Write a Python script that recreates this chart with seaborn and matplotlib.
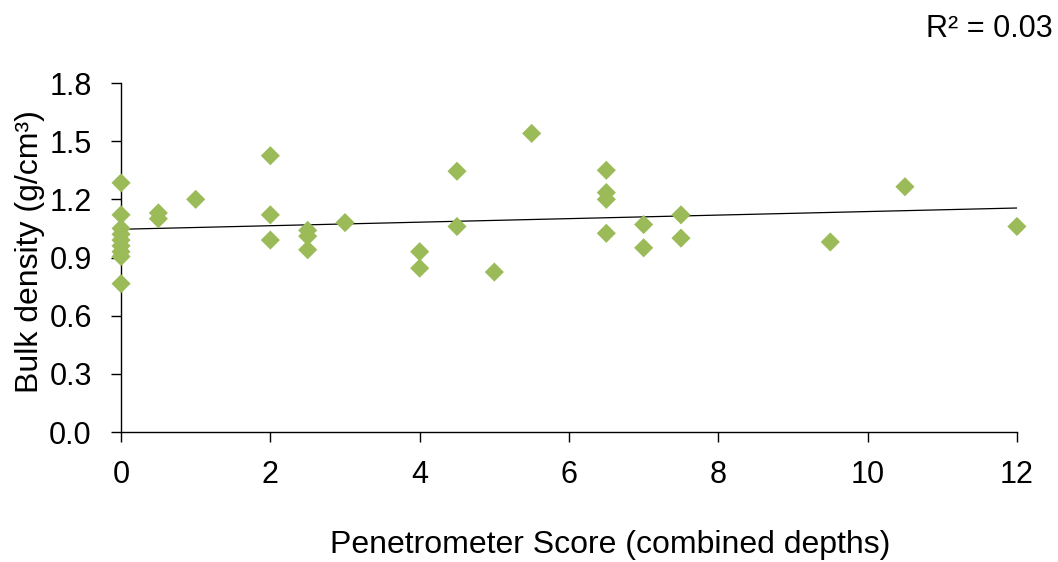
import numpy as np
import pandas as pd
import matplotlib
matplotlib.use("Agg")
import matplotlib.pyplot as plt
import seaborn as sns

# Penetrometer score vs. bulk density measurements
penetrometer = [0, 0, 0, 0, 0, 0, 0, 0, 0,
                0.5, 0.5, 1,
                2, 2, 2,
                2.5, 2.5, 2.5, 3,
                4, 4, 4.5, 4.5, 5, 5.5,
                6.5, 6.5, 6.5, 6.5,
                7, 7, 7.5, 7.5,
                9.5, 10.5, 12]
bulk_density = [1.285, 1.12, 1.05, 1.02, 0.99, 0.96, 0.93, 0.905, 0.765,
                1.13, 1.10, 1.20,
                1.425, 1.12, 0.99,
                1.04, 1.01, 0.94, 1.08,
                0.93, 0.845, 1.345, 1.06, 0.825, 1.54,
                1.35, 1.235, 1.20, 1.025,
                1.07, 0.95, 1.12, 1.00,
                0.98, 1.265, 1.06]

x_ticks = [0, 2, 4, 6, 8, 10, 12]
y_ticks = [0.0, 0.3, 0.6, 0.9, 1.2, 1.5, 1.8]

df = pd.DataFrame({"score": penetrometer, "density": bulk_density})

sns.set_style("white")
plt.rcParams["font.family"] = ["Liberation Sans", "DejaVu Sans"]
plt.rcParams["text.color"] = "black"
plt.rcParams["axes.labelcolor"] = "black"

fig = plt.figure(figsize=(10.58, 5.62), dpi=100)
ax = fig.add_axes([0.1144, 0.2313, 0.8468, 0.6210])

sns.scatterplot(data=df, x="score", y="density", ax=ax, marker="D",
                s=95, color="#9BBB59", edgecolor="none", linewidth=0, zorder=3)
sns.regplot(data=df, x="score", y="density", ax=ax, scatter=False, ci=None,
            truncate=True, line_kws={"color": "black", "linewidth": 0.9, "zorder": 2})

# coefficient of determination for the linear fit
slope, intercept = np.polyfit(df["score"], df["density"], 1)
pred = slope * df["score"] + intercept
r2 = 1 - ((df["density"] - pred) ** 2).sum() / ((df["density"] - df["density"].mean()) ** 2).sum()
fig.text(0.9953, 1 - 37 / 562, f"R² = {r2:.2f}", ha="right", va="baseline",
         fontsize=22, color="black")

ax.set_xlim(0, 12)
ax.set_ylim(0, 1.8)
ax.set_xticks(x_ticks)
ax.set_yticks(y_ticks)
ax.set_yticklabels([f"{v:.1f}" for v in y_ticks])
ax.tick_params(axis="both", which="major", bottom=True, left=True,
               direction="out", length=7, width=1, color="black",
               labelsize=22, labelcolor="black")
ax.tick_params(axis="x", pad=13)
ax.tick_params(axis="y", pad=14)
for s in ["top", "right"]:
    ax.spines[s].set_visible(False)
for s in ["left", "bottom"]:
    ax.spines[s].set_color("black")
    ax.spines[s].set_linewidth(1)
for coll in ax.collections:
    coll.set_clip_on(False)

ax.set_xlabel("Penetrometer Score (combined depths)", fontsize=23)
ax.set_ylabel("Bulk density (g/cm³)", fontsize=23)
ax.xaxis.set_label_coords(0.546, -0.28)
ax.yaxis.set_label_coords(-0.085, 0.517)

fig.savefig("out.png", dpi=100)
